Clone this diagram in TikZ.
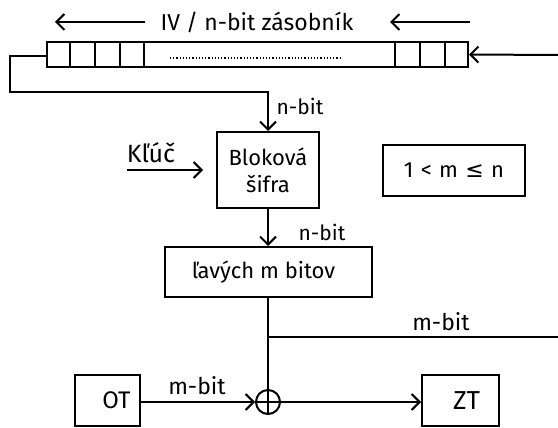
\documentclass[tikz,border=0pt]{standalone}
\usepackage{fontspec}
\setmainfont{Fira Sans}
\newfontfamily\symfont{DejaVu Sans}
\usetikzlibrary{arrows.meta}
\begin{document}
\begin{tikzpicture}[x=1pt,y=-1pt,
  line width=2pt,
  every node/.style={font=\fontsize{21}{24}\selectfont},
  box/.style={draw,rectangle,inner sep=0pt},
  lbl/.style={inner sep=0pt},
  arr/.style={-{Straight Barb[length=8pt,width=16pt,line width=2pt]}}]
\useasboundingbox (0,0) rectangle (558,428);
% register
\node[box,minimum width=421pt,minimum height=25pt] (reg) at (257.5,54.5) {};
\foreach \xx in {70,95,120,144,395,420,445}{\draw (\xx,42) -- (\xx,67);}
\draw[line width=1.2pt,dotted] (170,58) -- (340,58);
% top arrows and title
\node[lbl,font=\fontsize{23}{26}\selectfont] (title) at (257,22) {IV / n-bit zásobník};
\coordinate (ta1) at (145,22); \coordinate (ta2) at (55,22);
\coordinate (tb1) at (470,22); \coordinate (tb2) at (390,22);
\draw[arr] (ta1) -- (ta2);
\draw[arr] (tb1) -- (tb2);
% input on the right
\coordinate (rin) at (558,55);
\draw[arr] (rin) -- (reg.east);
% block cipher
\node[box,minimum width=102pt,minimum height=76pt,align=center,font=\fontsize{22}{27}\selectfont] (cipher) at (268,170) {Bloková\\šifra};
% feedback
\coordinate (f1) at (10,56); \coordinate (f2) at (10,92); \coordinate (f3) at (268,92);
\draw[arr] (reg.west |- f1) -- (f1) -- (f2) -- (f3) -- (cipher.north);
\node[lbl] (nb1) at (300,106) {n-bit};
% key
\node[lbl,font=\fontsize{25}{28}\selectfont] (key) at (151,153) {Kľúč};
\coordinate (k1) at (127,170);
\draw[arr,shorten >=13pt] (k1) -- (cipher.west);
% condition
\node[box,minimum width=142pt,minimum height=51pt,text width=130pt,align=center,font=\fontsize{22}{24}\selectfont] (cond) at (454,170.5) {1 < m {\symfont≤} n\hspace*{20pt}};
% left m bits
\node[box,minimum width=207pt,minimum height=50pt,font=\fontsize{22}{24}\selectfont] (left) at (268.5,272) {ľavých m bitov\hspace*{10pt}};
\draw[arr] (cipher.south) -- (left.north -| cipher.south);
\node[lbl] (nb2) at (322,232) {n-bit};
% xor
\node[draw,circle,minimum size=24pt,inner sep=0pt] (xor) at (268,402) {};
\draw (xor.north) -- (xor.south) (xor.west) -- (xor.east);
\draw (left.south -| xor) -- (xor.north);
\coordinate (b1) at (268,337); \coordinate (b2) at (558,337);
\draw (b1) -- (b2);
\node[lbl,font=\fontsize{23}{26}\selectfont] (mb1) at (441,322) {m-bit};
% OT, ZT
\node[box,minimum width=65pt,minimum height=51pt,font=\fontsize{24}{26}\selectfont] (ot) at (107.5,400.5) {\hspace*{18pt}OT};
\node[box,minimum width=77pt,minimum height=51pt,font=\fontsize{26}{28}\selectfont] (zt) at (460.5,400.5) {\hspace*{12pt}ZT};
\draw[arr] (ot.east |- xor) -- (xor.west);
\draw[arr] (xor.east) -- (zt.west |- xor);
\node[lbl,font=\fontsize{23}{26}\selectfont] (mb2) at (197,386) {m-bit};
\end{tikzpicture}
\end{document}
